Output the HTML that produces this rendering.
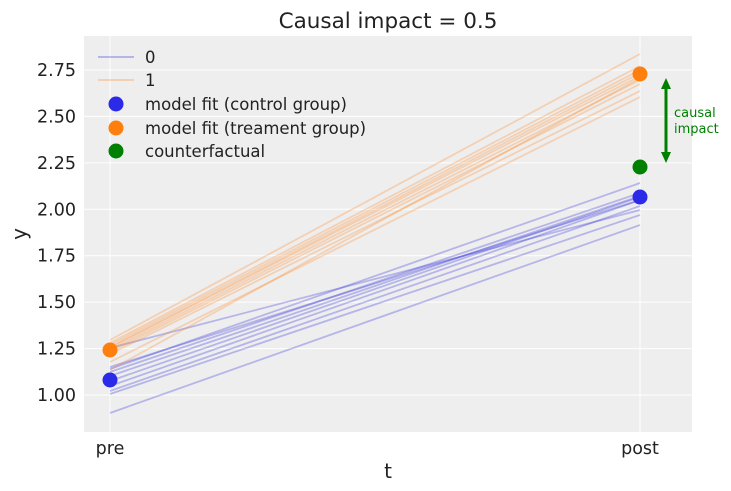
<!DOCTYPE html><html><head><style>body{margin:0;background:#fff}svg{display:block;font-family:"DejaVu Sans","Liberation Sans",sans-serif}</style></head><body>
<svg width="731" height="491" xmlns="http://www.w3.org/2000/svg">
<rect x="84" y="36" width="608" height="396" fill="#eeeeee"/>
<g stroke="#fff" stroke-width="1">
<line x1="84" x2="692" y1="395" y2="395"/><line x1="84" x2="692" y1="348.6" y2="348.6"/><line x1="84" x2="692" y1="302.1" y2="302.1"/><line x1="84" x2="692" y1="255.7" y2="255.7"/><line x1="84" x2="692" y1="209.3" y2="209.3"/><line x1="84" x2="692" y1="162.9" y2="162.9"/><line x1="84" x2="692" y1="116.4" y2="116.4"/><line x1="84" x2="692" y1="70" y2="70"/>
<line x1="110" x2="110" y1="36" y2="432"/><line x1="640" x2="640" y1="36" y2="432"/>
</g>
<g stroke="#3333dd" stroke-opacity="0.3" stroke-width="1.8">
<line x1="110" y1="413" x2="640" y2="225"/><line x1="110" y1="394" x2="640" y2="215"/><line x1="110" y1="391" x2="640" y2="206"/><line x1="110" y1="386" x2="640" y2="200"/><line x1="110" y1="381" x2="640" y2="197"/><line x1="110" y1="376" x2="640" y2="196"/><line x1="110" y1="372" x2="640" y2="193"/><line x1="110" y1="369" x2="640" y2="183"/><line x1="110" y1="367" x2="640" y2="200"/><line x1="110" y1="348" x2="640" y2="210"/>
</g>
<g stroke="#ff8c2a" stroke-opacity="0.3" stroke-width="1.8">
<line x1="110" y1="340" x2="640" y2="54"/><line x1="110" y1="343" x2="640" y2="66"/><line x1="110" y1="345" x2="640" y2="70"/><line x1="110" y1="347" x2="640" y2="73"/><line x1="110" y1="348" x2="640" y2="76"/><line x1="110" y1="350" x2="640" y2="80"/><line x1="110" y1="352" x2="640" y2="84"/><line x1="110" y1="354" x2="640" y2="91"/><line x1="110" y1="362" x2="640" y2="97"/><line x1="110" y1="370" x2="640" y2="78"/>
</g>
<circle cx="110" cy="380" r="7.5" fill="#2a2ae8"/><circle cx="110" cy="350" r="7.5" fill="#ff7f0e"/>
<circle cx="640" cy="197" r="7.5" fill="#2a2ae8"/><circle cx="640" cy="74" r="7.5" fill="#ff7f0e"/><circle cx="640" cy="167" r="7.5" fill="#008000"/>
<line x1="666" y1="86" x2="666" y2="156" stroke="#008000" stroke-width="3"/>
<polygon points="666,78 661,89 671,89" fill="#008000"/><polygon points="666,163 661,152 671,152" fill="#008000"/>
<text x="674" y="117" font-size="13" fill="#008000">causal</text><text x="674" y="133" font-size="13" fill="#008000">impact</text>
<g font-size="17.5" fill="#222">
<text x="76" y="401" text-anchor="end">1.00</text><text x="76" y="354.6" text-anchor="end">1.25</text><text x="76" y="308.1" text-anchor="end">1.50</text><text x="76" y="261.7" text-anchor="end">1.75</text><text x="76" y="215.3" text-anchor="end">2.00</text><text x="76" y="168.9" text-anchor="end">2.25</text><text x="76" y="122.4" text-anchor="end">2.50</text><text x="76" y="76" text-anchor="end">2.75</text>
<text x="110" y="454" text-anchor="middle">pre</text><text x="640" y="454" text-anchor="middle">post</text>
</g>
<text x="388" y="478" font-size="20" text-anchor="middle" fill="#222">t</text>
<text x="26" y="234" font-size="20" text-anchor="middle" fill="#222" transform="rotate(-90 26 234)">y</text>
<text x="388" y="28" font-size="21.5" text-anchor="middle" fill="#222">Causal impact = 0.5</text>
<g font-size="16.5" fill="#222">
<line x1="98" x2="134" y1="57" y2="57" stroke="#3333dd" stroke-opacity="0.3" stroke-width="2"/><text x="145" y="63">0</text>
<line x1="98" x2="134" y1="80" y2="80" stroke="#ff8c2a" stroke-opacity="0.3" stroke-width="2"/><text x="145" y="86">1</text>
<circle cx="116" cy="104" r="7.5" fill="#2a2ae8"/><text x="145" y="110">model fit (control group)</text>
<circle cx="116" cy="128" r="7.5" fill="#ff7f0e"/><text x="145" y="134">model fit (treament group)</text>
<circle cx="116" cy="151" r="7.5" fill="#008000"/><text x="145" y="157">counterfactual</text>
</g>
</svg></body></html>
